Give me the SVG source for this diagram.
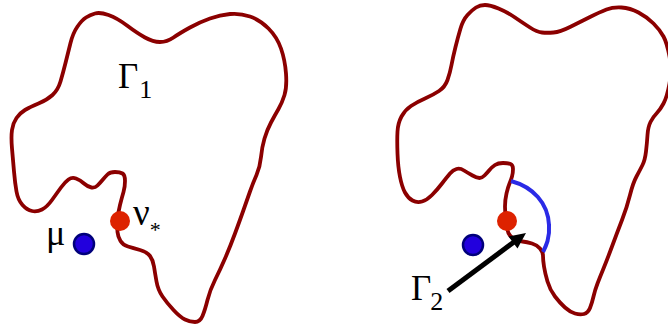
<svg xmlns="http://www.w3.org/2000/svg" width="668" height="331" viewBox="0 0 668 331">
<defs>
<style>
.curve{fill:none;stroke:#8b0000;stroke-width:3.8;stroke-linejoin:round;stroke-linecap:round}
.arc{fill:none;stroke:#2a2ae6;stroke-width:4;stroke-linecap:butt}
.red{fill:#dd2200}
.blue{fill:#2200dd;stroke:#00007a;stroke-width:2.5}
.t{font-family:"Liberation Serif","Times New Roman",serif;fill:#000}
</style>
</defs>
<rect width="668" height="331" fill="#fff"/>
<g id="gamma1-left">
<path class="curve" d="M95,13.5 Q100,12 108.5,15 Q117,18 127,25.5 Q137,33 145,37.5 Q153,42 160,42 Q167,42 173.5,37.5 Q180,33 190,27.5 Q200,22 210,18.5 Q220,15 230,14 Q240,13 250,16.5 Q260,20 268.5,28.5 Q277,37 281,48.5 Q285,60 286,73.5 Q287,87 284.5,95 Q282,103 278.5,109 Q275,115 271,122.5 Q267,130 264.5,138.5 Q262,147 261,157 Q260,167 256.5,175 Q253,183 250,191.5 Q247,200 243.5,210 Q240,220 235,233.5 Q230,247 225,258.5 Q220,270 215,280 Q210,290 207.5,300 Q205,310 202.5,316 Q200,322 195,322 Q190,322 185,319.5 Q180,317 173.5,310 Q167,303 162.5,296.5 Q158,290 156.5,281.5 Q155,273 154,266.5 Q153,260 150,256 Q147,252 140,250 Q133,248 128,246.5 Q123,245 120.5,241 Q118,237 117.5,232 Q117,227 117.5,220 Q118,213 120,205 Q122,197 123.5,192 Q125,187 125,181 Q125,175 122.5,173.5 Q120,172 115,172 Q110,172 107.5,174.5 Q105,177 102.5,180 Q100,183 97.5,185.5 Q95,188 91.5,187.5 Q88,187 84,183.5 Q80,180 76,178.5 Q72,177 68.5,179.5 Q65,182 61,187.5 Q57,193 52,200 Q47,207 42,209.5 Q37,212 32,211 Q27,210 22.5,205 Q18,200 16.5,191.5 Q15,183 14,171.5 Q13,160 12,148.5 Q11,137 12,130 Q13,123 16.5,118 Q20,113 25,110 Q30,107 38.5,103.5 Q47,100 52.5,95 Q58,90 60.5,81.5 Q63,73 65.5,63 Q68,53 70.5,43 Q73,33 77.5,26.5 Q82,20 86,17.5 Q90,15 95,13.5 Z"/>
<text class="t" x="118" y="88" font-size="35">Γ<tspan font-size="26" dx="1" dy="10">1</tspan></text>
</g>
<g id="nu-left">
<circle class="red" cx="120" cy="221" r="10"/>
<text class="t" x="133" y="225" font-size="37">ν<tspan font-size="22" dx="0" dy="12">*</tspan></text>
</g>
<g id="mu-left">
<circle class="blue" cx="84" cy="244" r="10"/>
<text class="t" x="46" y="245" font-size="36">μ</text>
</g>
<g id="gamma-right">
<path class="curve" d="M476,7.5 Q480,5 485,5 Q490,5 498.5,8.5 Q507,12 515,17.5 Q523,23 530,27.5 Q537,32 542,32.5 Q547,33 553.5,32.5 Q560,32 570,27 Q580,22 590,17 Q600,12 606.5,9.5 Q613,7 621.5,7.5 Q630,8 638.5,12.5 Q647,17 653.5,23.5 Q660,30 663.5,36.5 Q667,43 669.5,56.5 Q672,70 669.5,83.5 Q667,97 663.5,103.5 Q660,110 656.5,113.5 Q653,117 650.5,122 Q648,127 647.5,135 Q647,143 646,151.5 Q645,160 642.5,165 Q640,170 636.5,176.5 Q633,183 630,195 Q627,207 622,220 Q617,233 612,246.5 Q607,260 603.5,268.5 Q600,277 597.5,283.5 Q595,290 593.5,296.5 Q592,303 590,308 Q588,313 584,314 Q580,315 575,313.5 Q570,312 565,307.5 Q560,303 555,296.5 Q550,290 547.5,281.5 Q545,273 544,266.5 Q543,260 543,256 Q543,252 540,248.5 Q537,245 532,243.5 Q527,242 522.5,241.5 Q518,241 515,239.5 Q512,238 510,235.5 Q508,233 507.5,230 Q507,227 506,220 Q505,213 505,206.5 Q505,200 506.5,193.5 Q508,187 509.5,183.5 Q511,180 512,176.5 Q513,173 513,169 Q513,165 510.5,164 Q508,163 503,163 Q498,163 495,165 Q492,167 489.5,170 Q487,173 484.5,175.5 Q482,178 479.5,178 Q477,178 472.5,175.5 Q468,173 464,170.5 Q460,168 456.5,169 Q453,170 450,173.5 Q447,177 442,183.5 Q437,190 432,195 Q427,200 422,201.5 Q417,203 412.5,200.5 Q408,198 405,192.5 Q402,187 400,177 Q398,167 397.5,153.5 Q397,140 397.5,131.5 Q398,123 401.5,116.5 Q405,110 411,106 Q417,102 425,98.5 Q433,95 439,91 Q445,87 447.5,80 Q450,73 451.5,65 Q453,57 455.5,47 Q458,37 460.5,28.5 Q463,20 467.5,15 Q472,10 476,7.5 Z"/>
</g>
<g id="gamma2-arc">
<path class="arc" d="M511,181 C533,187 548,203 549,225 C550,238 546,246 543,252"/>
</g>
<g id="nu-right">
<circle class="red" cx="507" cy="221" r="10"/>
</g>
<g id="mu-right">
<circle class="blue" cx="473" cy="245" r="10"/>
</g>
<g id="connectors">
<line x1="448" y1="291" x2="514" y2="242" stroke="#000" stroke-width="5"/>
<polygon points="526,233 517.5,248.5 508.5,236.5" fill="#000"/>
</g>
<g id="gamma2-label">
<text class="t" x="411" y="300" font-size="35">Γ<tspan font-size="26" dx="-1" dy="10">2</tspan></text>
</g>
</svg>
